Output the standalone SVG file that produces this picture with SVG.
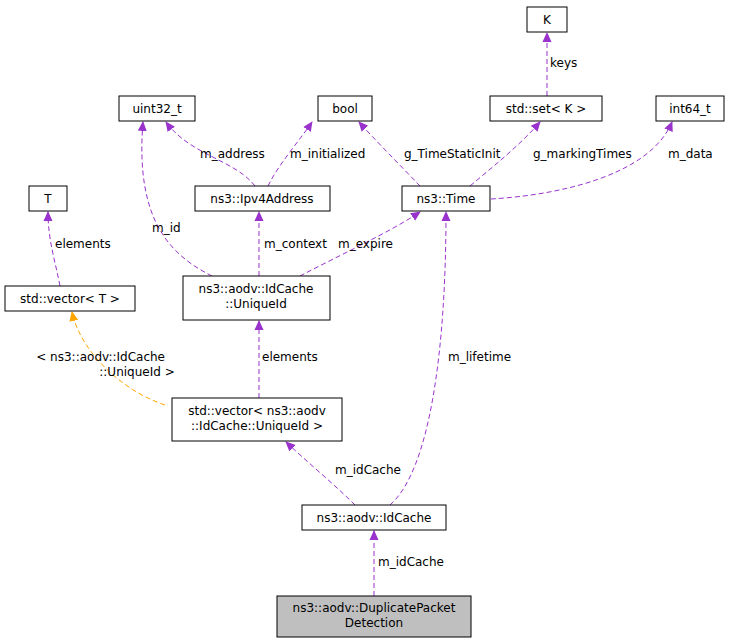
<svg xmlns="http://www.w3.org/2000/svg" width="729" height="643" viewBox="0 0 729 643">
<style>
.n rect{fill:#fff;stroke:#000;stroke-width:1}
text{font-family:"DejaVu Sans",sans-serif;font-size:12px;fill:#000}
.c text{font-size:12px}
.e{fill:none;stroke:#9a32cd;stroke-dasharray:5,3}
.o{fill:none;stroke:#ffa500;stroke-dasharray:5,3}
</style>
<defs>
<marker id="p" markerWidth="10" markerHeight="10" refX="9" refY="5" orient="auto" markerUnits="userSpaceOnUse"><path d="M0,0.5L10,5L0,9.5z" fill="#9a32cd"/></marker>
<marker id="y" markerWidth="10" markerHeight="10" refX="9" refY="5" orient="auto" markerUnits="userSpaceOnUse"><path d="M0,0.5L10,5L0,9.5z" fill="#ffa500"/></marker>
</defs>
<rect width="729" height="643" fill="#fff"/>
<g class="c">
<path class="e" d="M547,96L547,33" marker-end="url(#p)"/><text x="550" y="67">keys</text>
<path class="e" d="M255,186C235,160 190,155 166,122" marker-end="url(#p)"/><text x="200" y="158">m_address</text>
<path class="e" d="M268,186C278,165 300,140 312,122" marker-end="url(#p)"/><text x="290" y="158">m_initialized</text>
<path class="e" d="M420,186C400,165 375,140 359,122" marker-end="url(#p)"/><text x="404" y="158">g_TimeStaticInit</text>
<path class="e" d="M470,186C495,165 520,145 540,122" marker-end="url(#p)"/><text x="533" y="158">g_markingTimes</text>
<path class="e" d="M491,199C560,195 650,175 672,122" marker-end="url(#p)"/><text x="668" y="158">m_data</text>
<path class="e" d="M212,276C170,255 135,220 143,122" marker-end="url(#p)"/><text x="152" y="232">m_id</text>
<path class="e" d="M259,276L259,212" marker-end="url(#p)"/><text x="264" y="248">m_context</text>
<path class="e" d="M300,276C340,255 390,232 420,212" marker-end="url(#p)"/><text x="338" y="248">m_expire</text>
<path class="e" d="M60,286C55,260 48,240 48,212" marker-end="url(#p)"/><text x="55" y="248">elements</text>
<path class="o" d="M165,405C120,390 80,350 72,312" marker-end="url(#y)"/>
<text x="165" y="361" text-anchor="end">&lt; ns3::aodv::IdCache</text><text x="137" y="376" text-anchor="middle">::UniqueId &gt;</text>
<path class="e" d="M259,398L259,321" marker-end="url(#p)"/><text x="262" y="361">elements</text>
<path class="e" d="M355,505C335,485 305,460 286,442" marker-end="url(#p)"/><text x="335" y="474">m_idCache</text>
<path class="e" d="M390,505C430,470 446,350 446,212" marker-end="url(#p)"/><text x="448" y="361">m_lifetime</text>
<path class="e" d="M374,596L374,531" marker-end="url(#p)"/><text x="378" y="566">m_idCache</text>
</g>
<g id="K" class="n"><rect x="527" y="7" width="40" height="25"/><text x="547" y="24" text-anchor="middle">K</text></g>
<g id="uint32" class="n"><rect x="119" y="96" width="76" height="25"/><text x="157" y="113" text-anchor="middle">uint32_t</text></g>
<g id="bool" class="n"><rect x="318" y="96" width="54" height="25"/><text x="345" y="113" text-anchor="middle">bool</text></g>
<g id="set" class="n"><rect x="490" y="96" width="112" height="25"/><text x="546" y="113" text-anchor="middle">std::set&lt; K &gt;</text></g>
<g id="int64" class="n"><rect x="656" y="96" width="68" height="25"/><text x="690" y="113" text-anchor="middle">int64_t</text></g>
<g id="T" class="n"><rect x="29" y="186" width="38" height="25"/><text x="48" y="203" text-anchor="middle">T</text></g>
<g id="ipv4" class="n"><rect x="195" y="186" width="135" height="25"/><text x="262" y="203" text-anchor="middle">ns3::Ipv4Address</text></g>
<g id="time" class="n"><rect x="402" y="186" width="88" height="25"/><text x="446" y="203" text-anchor="middle">ns3::Time</text></g>
<g id="vecT" class="n"><rect x="5" y="286" width="130" height="25"/><text x="70" y="303" text-anchor="middle">std::vector&lt; T &gt;</text></g>
<g id="uid" class="n"><rect x="183" y="276" width="147" height="44"/><text x="256" y="293" text-anchor="middle">ns3::aodv::IdCache</text><text x="256" y="308" text-anchor="middle">::UniqueId</text></g>
<g id="vecU" class="n"><rect x="172" y="398" width="170" height="43"/><text x="257" y="415" text-anchor="middle">std::vector&lt; ns3::aodv</text><text x="257" y="430" text-anchor="middle">::IdCache::UniqueId &gt;</text></g>
<g id="idc" class="n"><rect x="302" y="505" width="144" height="25"/><text x="374" y="522" text-anchor="middle">ns3::aodv::IdCache</text></g>
<g id="dpd" class="n"><rect x="277" y="596" width="194" height="41" style="fill:#bfbfbf"/><text x="374" y="612" text-anchor="middle">ns3::aodv::DuplicatePacket</text><text x="374" y="627" text-anchor="middle">Detection</text></g>
</svg>
